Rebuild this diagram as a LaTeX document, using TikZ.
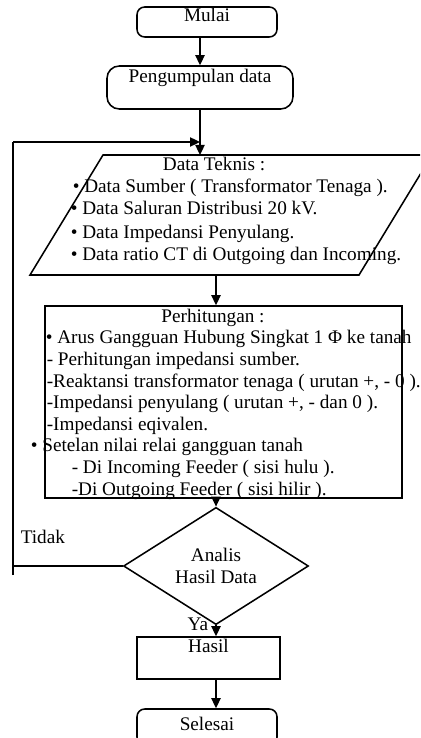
\documentclass[tikz,border=0pt]{standalone}
\usepackage{fontspec}
\setmainfont{Liberation Serif}
\usetikzlibrary{shapes.geometric,arrows.meta}

\begin{document}
\begin{tikzpicture}[x=0.65pt, y=-0.65pt,
            every node/.style={font=\fontsize{12.5}{14.3}\selectfont},
            term/.style={draw, rounded corners=5pt, inner xsep=0pt, inner ysep=0pt, minimum width=91pt},
            blk/.style={draw, inner sep=0pt},
            dec/.style={diamond, draw, inner sep=0pt, minimum width=120.25pt, minimum height=48.75pt, align=center},
            txt/.style={inner sep=0pt, anchor=base west},
            every edge/.style={draw, -{Triangle[length=6.5pt, width=6pt]}},
            line width=1pt
        ]
        \useasboundingbox (0,0) rectangle (420,738);
        \clip (0,0) rectangle (420,738);

        \node[term, text height=9.75pt, text depth=9.75pt] (mulai) at (207,22) {Mulai};
        \node[term, rounded corners=8pt, minimum width=120.9pt, text height=11.05pt, text depth=16.9pt] (peng) at (200,87.5) {Pengumpulan data};

        % data teknis
        \coordinate (pa) at (103,155);
        \coordinate (pb) at (432,155);
        \coordinate (pc) at (359,275);
        \coordinate (pd) at (30,275);
        \draw (pa) -- (pb) -- (pc) -- (pd) -- cycle;
        \node[txt, anchor=base] (t0) at (214,171) {Data Teknis :};
        \node[txt] (t1) at (72,193) {\textbullet\ Data Sumber ( Transformator Tenaga ).};
        \node[txt] (t2) at (70,215) {\textbullet\ Data Saluran Distribusi 20 kV.};
        \node[txt] (t3) at (70,238) {\textbullet\ Data Impedansi Penyulang.};
        \node[txt] (t4) at (70,260) {\textbullet\ Data ratio CT di Outgoing dan Incoming.};

        % perhitungan
        \node[blk, minimum width=232pt, minimum height=124.8pt] (calc) at (223.5,402) {};
        \node[txt, anchor=base] (c0) at (213,322) {Perhitungan :};
        \node[txt] (c1) at (45,343.6) {\textbullet\ Arus Gangguan Hubung Singkat 1 Φ ke tanah};
        \node[txt] (c2) at (46,365) {- Perhitungan impedansi sumber.};
        \node[txt] (c3) at (46,387) {-Reaktansi transformator tenaga ( urutan +, - 0 ).};
        \node[txt] (c4) at (46,408.5) {-Impedansi penyulang ( urutan +, - dan 0 ).};
        \node[txt] (c5) at (46,430) {-Impedansi eqivalen.};
        \node[txt] (c6) at (30,451.7) {\textbullet\ Setelan nilai relai gangguan tanah};
        \node[txt] (c7) at (71,473) {- Di Incoming Feeder ( sisi hulu ).};
        \node[txt] (c8) at (71,495) {-Di Outgoing Feeder ( sisi hilir ).};

        \node[dec] (ana) at (216,566) {Analis\\Hasil Data};
        \node[blk, minimum width=93pt, minimum height=27.3pt, text height=9.75pt, text depth=17.55pt] (hasil) at (208.5,658) {Hasil};
        \node[term, text height=13.65pt, text depth=9.75pt] (selesai) at (207,727) {Selesai};

        \coordinate (lb) at (13,575);
        \coordinate (lt) at (13,142);

        \draw (peng |- mulai.south) edge (peng.north);
        \draw (peng.south) edge (peng.south |- pa);
        \draw (ana |- pd) edge (ana |- calc.north);
        \draw (ana |- calc.south) edge (ana.north);
        \draw (ana.south) edge (ana.south |- hasil.north);
        \draw (ana |- hasil.south) edge (ana |- selesai.north);
        \draw (ana.west) -- (lb |- ana.west);
        \draw (lb) -- (lt) edge (lt -| peng.south);

        \node[txt] (tidak) at (20,543) {Tidak};
        \node[txt, anchor=base east] (ya) at (209,630) {Ya};
    \end{tikzpicture}
\end{document}
